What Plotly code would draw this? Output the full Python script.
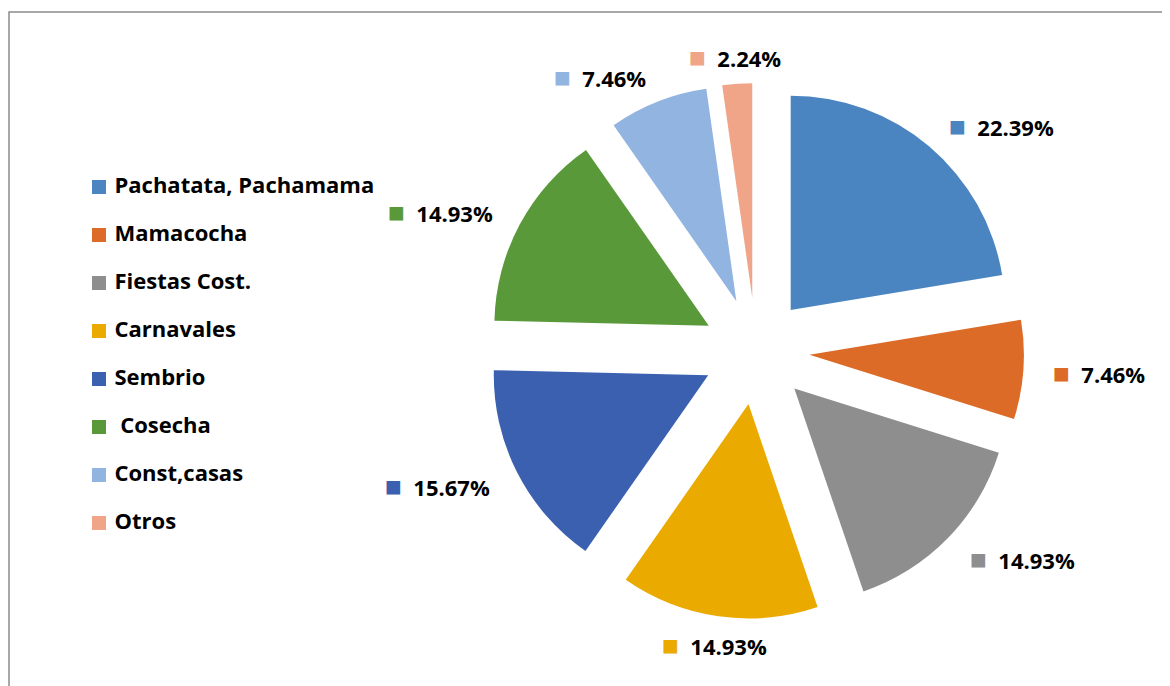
import math
import plotly.graph_objects as go

# data
categorias = ["Pachatata, Pachamama", "Mamacocha", "Fiestas Cost.", "Carnavales",
              "Sembrio", " Cosecha", "Const,casas", "Otros"]
frecuencias = [30, 10, 20, 20, 21, 20, 10, 3]
colores = ["#4a85c1", "#dc6b27", "#8e8e8e", "#eaaa00",
           "#3b60b0", "#5a993a", "#92b4e0", "#f0a588"]

W, H = 1170, 686
OFF = 8              # page body margin, coordinates below are page pixels
FONT = "Open Sans"

# pie geometry (page pixels)
cx, cy = 756, 351
pull = 0.25
half = 268           # radius * (1 + pull)
label_r = 296        # distance of label box from centre

total = sum(frecuencias)
porcentajes = [f / total * 100 for f in frecuencias]

fig = go.Figure()

fig.add_trace(go.Pie(
    labels=categorias,
    values=frecuencias,
    sort=False,
    direction="clockwise",
    rotation=0,
    pull=[pull] * len(frecuencias),
    marker=dict(colors=colores, line=dict(width=0)),
    textinfo="none",
    hoverinfo="label+percent",
    showlegend=False,
    domain=dict(x=[(cx - half - OFF) / W, (cx + half - OFF) / W],
                y=[1 - (cy + half - OFF) / H, 1 - (cy - half - OFF) / H]),
))

# legend drawn as a scatter on a hidden pixel-like axis
leg_x, leg_top, leg_step = 99, 187, 48
fig.add_trace(go.Scatter(
    x=[leg_x] * len(categorias),
    y=[leg_top + i * leg_step for i in range(len(categorias))],
    mode="markers+text",
    marker=dict(symbol="square", size=14, color=colores),
    text=[" " + c for c in categorias],
    textposition="middle right",
    textfont=dict(family=FONT, size=22, color="#000000", weight="bold"),
    cliponaxis=False,
    hoverinfo="skip",
    showlegend=False,
))

# percentage labels placed from the slice mid-angles
acum = 0
for pct, col in zip(porcentajes, colores):
    mid = (acum + pct / 2) / 100 * 2 * math.pi
    acum += pct
    s, c = math.sin(mid), math.cos(mid)
    x = cx + label_r * s
    y = cy - label_r * c
    xa = "left" if s > 0.3 else ("right" if s < -0.3 else "center")
    fig.add_annotation(
        x=x, y=y, xref="x", yref="y", xanchor=xa, yanchor="middle",
        text=f'<span style="color:{col};font-size:28px">■</span>  {pct:.2f}%',
        showarrow=False,
        font=dict(family=FONT, size=22, color="#000000", weight="bold"),
    )

fig.add_shape(type="rect", xref="x", yref="y", x0=OFF + 1, x1=W + 40, y0=12, y1=H + 40,
              line=dict(color="#8c8c8c", width=1.5), layer="below")

fig.update_xaxes(visible=False, range=[OFF, W + OFF], domain=[0, 1])
fig.update_yaxes(visible=False, range=[H + OFF, OFF], domain=[0, 1])
fig.update_layout(
    width=W, height=H,
    margin=dict(l=0, r=0, t=0, b=0),
    paper_bgcolor="white",
    plot_bgcolor="white",
    showlegend=False,
)

fig.write_html("out.html")
